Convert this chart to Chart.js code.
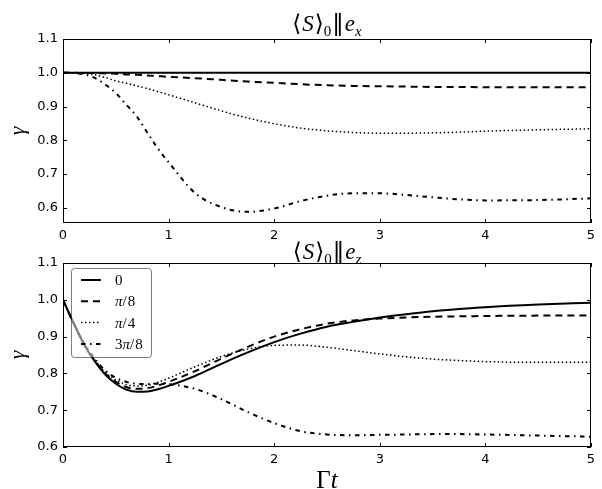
<!DOCTYPE html>
<html>
<head>
<meta charset="utf-8">
<script src="https://cdn.jsdelivr.net/npm/chart.js@4.4.0/dist/chart.umd.min.js"></script>
<style>
  body { margin: 0; background: #fff; }
  #wrap { position: relative; width: 602px; height: 489px; background: #fff; }
  canvas { position: absolute; left: 0; }
  #topChart { top: 0; }
  #bottomChart { top: 240px; }
</style>
</head>
<body>
<div id="wrap">
  <canvas id="topChart" width="602" height="250"></canvas>
  <canvas id="bottomChart" width="602" height="249"></canvas>
</div>
<script>
// time axis (Γt) shared by every curve
const times = [0, 0.1, 0.2, 0.3, 0.4, 0.5, 0.6, 0.7, 0.8, 0.9, 1.0, 1.25, 1.5, 1.75, 2.0, 2.25, 2.5, 2.75, 3.0, 3.25, 3.5, 3.75, 4.0, 4.5, 5.0];
const xTicks = [0, 1, 2, 3, 4, 5];
const yTicks = [0.6, 0.7, 0.8, 0.9, 1.0, 1.1];
const angleLabels = ['0', 'π/8', 'π/4', '3π/8'];

// <S>_0 || e_x
const exAngle0    = [1, 1, 1, 1, 1, 1, 1, 1, 1, 1, 1, 1, 1, 1, 1, 1, 1, 1, 1, 1, 1, 1, 1, 1, 1];
const exAnglePi8  = [1.0, 1.0, 0.999, 0.999, 0.998, 0.997, 0.995, 0.994, 0.992, 0.990, 0.988, 0.984, 0.979, 0.974, 0.970, 0.966, 0.963, 0.961, 0.960, 0.959, 0.958, 0.958, 0.957, 0.957, 0.957];
const exAnglePi4  = [1.0, 1.0, 0.998, 0.994, 0.986, 0.976, 0.969, 0.961, 0.953, 0.944, 0.935, 0.911, 0.887, 0.866, 0.849, 0.836, 0.828, 0.823, 0.821, 0.821, 0.822, 0.824, 0.827, 0.831, 0.834];
const exAngle3Pi8 = [1.0, 0.999, 0.995, 0.985, 0.965, 0.940, 0.905, 0.870, 0.822, 0.775, 0.735, 0.644, 0.602, 0.588, 0.598, 0.620, 0.636, 0.643, 0.643, 0.638, 0.631, 0.625, 0.622, 0.623, 0.628];

// <S>_0 || e_z
const ezAngle0    = [1.0, 0.937, 0.878, 0.833, 0.797, 0.772, 0.756, 0.750, 0.751, 0.757, 0.766, 0.793, 0.826, 0.857, 0.885, 0.908, 0.927, 0.940, 0.952, 0.961, 0.969, 0.975, 0.980, 0.987, 0.992];
const ezAnglePi8  = [1.0, 0.937, 0.880, 0.835, 0.800, 0.777, 0.763, 0.758, 0.760, 0.767, 0.777, 0.806, 0.840, 0.872, 0.900, 0.920, 0.935, 0.944, 0.949, 0.952, 0.954, 0.955, 0.956, 0.957, 0.957];
const ezAnglePi4  = [1.0, 0.937, 0.881, 0.837, 0.803, 0.782, 0.770, 0.766, 0.768, 0.776, 0.787, 0.818, 0.846, 0.866, 0.876, 0.877, 0.871, 0.862, 0.853, 0.845, 0.839, 0.835, 0.832, 0.830, 0.830];
const ezAngle3Pi8 = [1.0, 0.937, 0.882, 0.840, 0.808, 0.788, 0.777, 0.772, 0.771, 0.772, 0.771, 0.758, 0.730, 0.695, 0.665, 0.643, 0.634, 0.632, 0.633, 0.634, 0.635, 0.635, 0.634, 0.631, 0.628];

const lineStyles = [
    { dash: [], width: 2 },
    { dash: [7, 5], width: 2 },
    { dash: [1.5, 2.5], width: 1.5 },
    { dash: [4.5, 4.5, 1.5, 4.5], width: 2 }
];

const serif = '"Liberation Serif", "DejaVu Serif", serif';
const tickFont = { family: '"DejaVu Sans", sans-serif', size: 13 };

function toPoints(values) {
    return times.map((t, i) => ({ x: t, y: values[i] }));
}

function makeDatasets(list) {
    return list.map((values, i) => ({
        label: angleLabels[i],
        data: toPoints(values),
        borderColor: '#000',
        borderWidth: lineStyles[i].width,
        borderDash: lineStyles[i].dash,
        pointRadius: 0,
        fill: false,
        cubicInterpolationMode: 'monotone',
        order: list.length - i
    }));
}

// draw a row of text pieces (different fonts / offsets) centred on cx
function drawRuns(ctx, runs, cx, baseline) {
    var total = 0;
    runs.forEach(function (r) {
        ctx.font = r.font;
        r.w = ctx.measureText(r.text).width + (r.gap || 0);
        total += r.w;
    });
    var x = cx - total / 2;
    ctx.textAlign = 'left';
    ctx.textBaseline = 'alphabetic';
    runs.forEach(function (r) {
        ctx.font = r.font;
        ctx.fillText(r.text, x, baseline + (r.dy || 0));
        x += r.w;
    });
}

function drawLegend(chart) {
    const ctx = chart.ctx;
    const a = chart.chartArea;
    const bx = a.left + 8, by = a.top + 5, bw = 80, bh = 89;
    ctx.save();
    ctx.beginPath();
    ctx.roundRect(bx + 0.5, by + 0.5, bw, bh, 3);
    ctx.fillStyle = 'rgba(255,255,255,0.5)';
    ctx.fill();
    ctx.strokeStyle = 'rgba(0,0,0,0.5)';
    ctx.lineWidth = 1;
    ctx.stroke();

    chart.data.datasets.forEach(function (ds, i) {
        const y = by + 12 + i * 21.3;
        ctx.beginPath();
        ctx.setLineDash(ds.borderDash);
        ctx.lineWidth = ds.borderWidth;
        ctx.strokeStyle = '#000';
        ctx.moveTo(bx + 10, y);
        ctx.lineTo(bx + 30, y);
        ctx.stroke();
        ctx.setLineDash([]);

        ctx.fillStyle = '#000';
        ctx.textBaseline = 'middle';
        ctx.textAlign = 'left';
        var x = bx + 44;
        ds.label.split('').forEach(function (ch) {
            ctx.font = (ch === 'π' ? 'italic ' : '') + '15px ' + serif;
            ctx.fillText(ch, x, y + 1);
            x += ctx.measureText(ch).width + (ch === '/' ? 1 : 0);
        });
    });
    ctx.restore();
}

const framePlugin = {
    id: 'frame',
    afterDatasetsDraw(chart, args, opts) {
        if (opts.legend) {
            drawLegend(chart);
        }
    },
    afterDraw(chart, args, opts) {
        const ctx = chart.ctx;
        const a = chart.chartArea;
        const sx = chart.scales.x, sy = chart.scales.y;
        ctx.save();
        ctx.strokeStyle = '#000';
        ctx.lineWidth = 1;
        ctx.setLineDash([]);
        ctx.strokeRect(a.left + 0.5, a.top + 0.5, a.right - a.left - 1, a.bottom - a.top - 1);

        ctx.beginPath();
        xTicks.forEach(function (v) {
            const px = Math.round(sx.getPixelForValue(v)) + 0.5;
            ctx.moveTo(px, a.bottom);
            ctx.lineTo(px, a.bottom - 4);
            ctx.moveTo(px, a.top);
            ctx.lineTo(px, a.top + 4);
        });
        yTicks.forEach(function (v) {
            const py = Math.round(sy.getPixelForValue(v)) + 0.5;
            ctx.moveTo(a.left, py);
            ctx.lineTo(a.left + 4, py);
            ctx.moveTo(a.right, py);
            ctx.lineTo(a.right - 4, py);
        });
        ctx.stroke();

        ctx.fillStyle = '#000';
        // title  <S>_0 || e_sub
        const cx = (a.left + a.right) / 2;
        const big = '23px ' + serif;
        drawRuns(ctx, [
            { text: '⟨', font: '23px "DejaVu Serif", serif', gap: 1 },
            { text: 'S', font: 'italic ' + big, gap: 1 },
            { text: '⟩', font: '23px "DejaVu Serif", serif' },
            { text: '0', font: '15px ' + serif, dy: 5, gap: 1 },
            { text: '‖', font: '23px "DejaVu Sans", sans-serif', gap: 1 },
            { text: 'e', font: 'italic ' + big },
            { text: opts.sub, font: 'italic 15px ' + serif, dy: 5 }
        ], cx, opts.titleBaseline);

        // y label
        ctx.save();
        ctx.translate(24, (a.top + a.bottom) / 2);
        ctx.rotate(-Math.PI / 2);
        ctx.font = 'italic 22px ' + serif;
        ctx.textAlign = 'center';
        ctx.textBaseline = 'alphabetic';
        ctx.fillText('γ', 0, 0);
        ctx.restore();

        if (opts.xTitle) {
            drawRuns(ctx, [
                { text: 'Γ', font: '25px ' + serif },
                { text: 't', font: 'italic 25px ' + serif }
            ], cx, a.bottom + 41);
        }
        ctx.restore();
    }
};

function makeChart(canvasId, list, yMin, padTop, xHeight, frameOpts) {
    return new Chart(document.getElementById(canvasId), {
        type: 'line',
        data: { datasets: makeDatasets(list) },
        options: {
            responsive: false,
            animation: false,
            devicePixelRatio: 1,
            layout: { padding: { top: padTop, right: 11, left: 0, bottom: 0 } },
            plugins: {
                legend: { display: false },
                tooltip: { enabled: false },
                frame: frameOpts
            },
            scales: {
                x: {
                    type: 'linear',
                    min: 0,
                    max: 5,
                    afterBuildTicks: function (s) { s.ticks = xTicks.map(v => ({ value: v })); },
                    afterFit: function (s) { s.height = xHeight; },
                    grid: { display: false, drawTicks: false },
                    border: { display: false },
                    ticks: { color: '#000', font: tickFont, padding: 5, autoSkip: false, maxRotation: 0, callback: v => String(v) }
                },
                y: {
                    min: yMin,
                    max: 1.1,
                    afterBuildTicks: function (s) { s.ticks = yTicks.map(v => ({ value: v })); },
                    afterFit: function (s) { s.width = 63; },
                    grid: { display: false, drawTicks: false },
                    border: { display: false },
                    ticks: { color: '#000', font: tickFont, padding: 5, callback: v => v.toFixed(1) }
                }
            }
        },
        plugins: [framePlugin]
    });
}

makeChart('topChart', [exAngle0, exAnglePi8, exAnglePi4, exAngle3Pi8], 0.555, 39, 27,
    { sub: 'x', titleBaseline: 31, legend: false, xTitle: false });
makeChart('bottomChart', [ezAngle0, ezAnglePi8, ezAnglePi4, ezAngle3Pi8], 0.6, 23, 42,
    { sub: 'z', titleBaseline: 19, legend: true, xTitle: true });
</script>
</body>
</html>
